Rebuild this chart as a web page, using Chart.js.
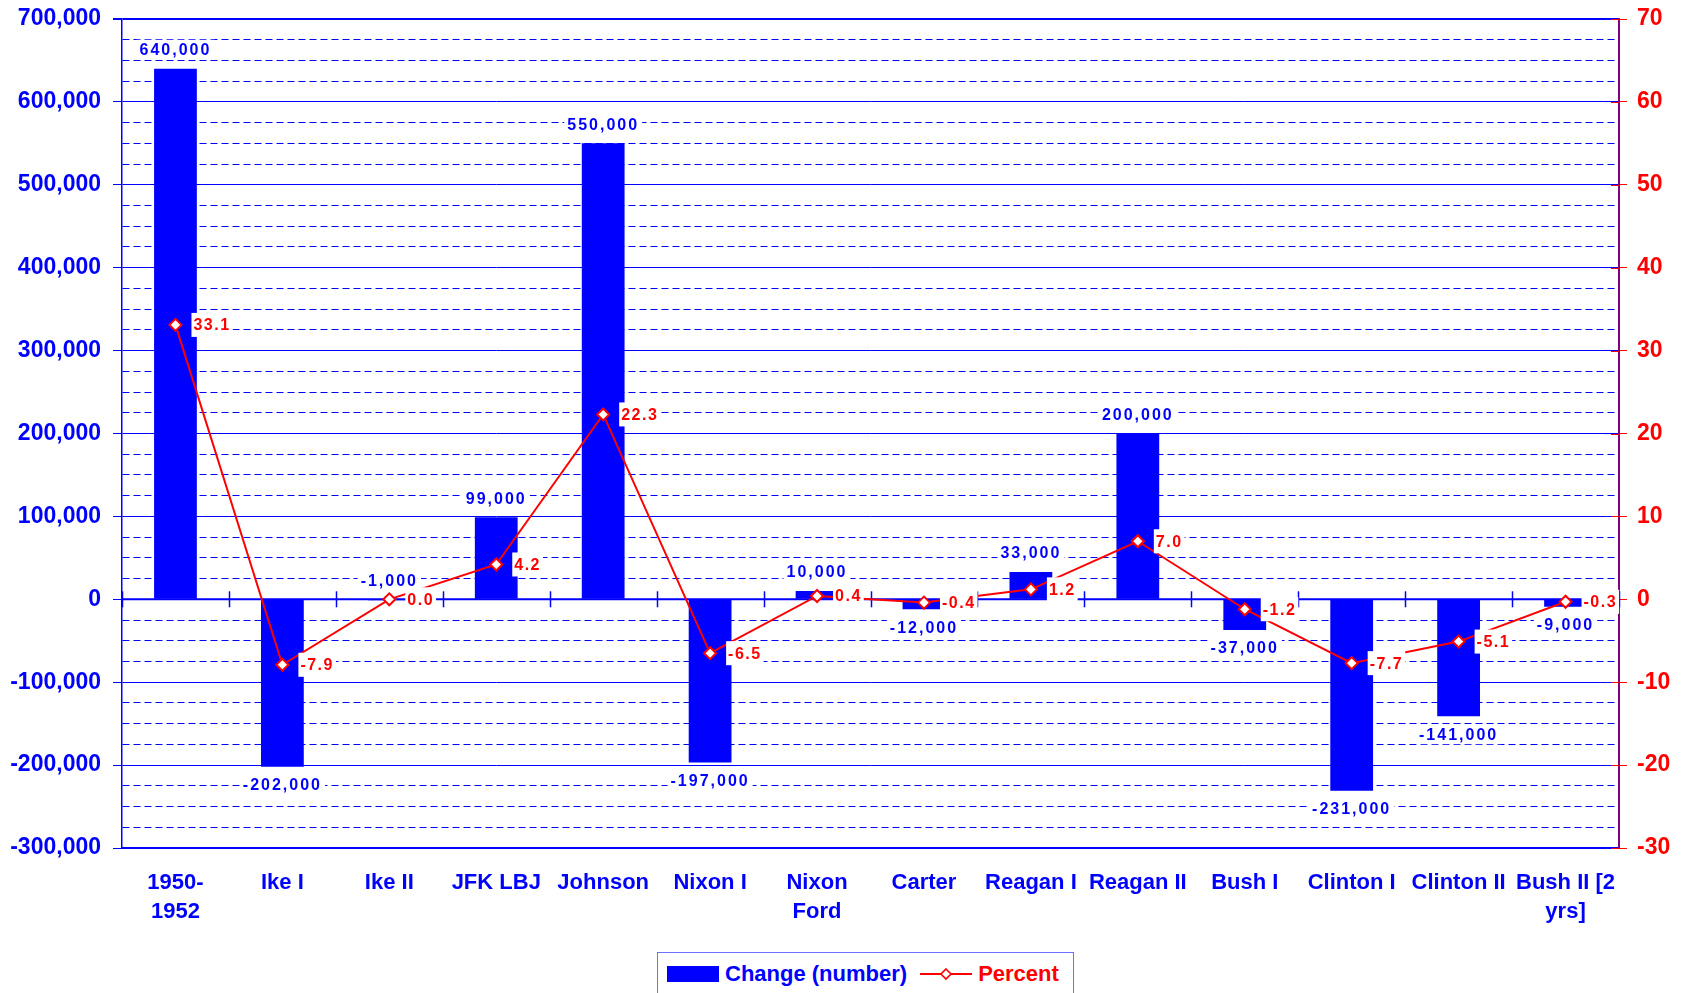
<!DOCTYPE html>
<html>
<head>
<meta charset="utf-8">
<script src="https://cdn.jsdelivr.net/npm/chart.js@4.4.1/dist/chart.umd.min.js"></script>
<style>
  html, body { margin: 0; padding: 0; background: #ffffff; width: 1683px; height: 993px; overflow: hidden; }
  #wrap { position: relative; width: 1683px; height: 993px; }
  canvas { position: absolute; left: 0; top: 0; }
  #legend {
    position: absolute; left: 657px; top: 952px; width: 417px; height: 60px;
    border: 1px solid #7070ff; box-sizing: border-box; background: #fff;
    font-family: "Liberation Sans", Arial, sans-serif; font-weight: bold; font-size: 22px;
  }
  #legend .row { display: flex; align-items: center; height: 41px; padding-left: 9px; }
  #legend .sw { width: 52px; height: 16px; background: #0000ff; margin-right: 6px; }
  #legend .t1 { color: #0000ff; margin-right: 13px; }
  #legend .t2 { color: #ff0000; margin-left: 6px; }
</style>
</head>
<body>
<div id="wrap">
  <canvas id="c" width="1683" height="993"></canvas>
  <div id="legend"><div class="row">
    <span class="sw"></span><span class="t1">Change (number)</span>
    <svg width="52" height="16" viewBox="0 0 52 16"><line x1="0" y1="8" x2="52" y2="8" stroke="#ff0000" stroke-width="2"/><polygon points="26,3 31,8 26,13 21,8" fill="#fff" stroke="#ff0000" stroke-width="1.6"/></svg>
    <span class="t2">Percent</span>
  </div></div>
</div>
<script>
// ---- data ----
const categories = [
  ["1950-", "1952"], "Ike I", "Ike II", "JFK LBJ", "Johnson", "Nixon I",
  ["Nixon", "Ford"], "Carter", "Reagan I", "Reagan II", "Bush I",
  "Clinton I", "Clinton II", ["Bush II [2", "yrs]"]
];
const changeValues = [640000, -202000, -1000, 99000, 550000, -197000, 10000, -12000, 33000, 200000, -37000, -231000, -141000, -9000];
const percentValues = [33.1, -7.9, 0.0, 4.2, 22.3, -6.5, 0.4, -0.4, 1.2, 7.0, -1.2, -7.7, -5.1, -0.3];
const seriesNames = ["Change (number)", "Percent"];
const leftAxisRange = [-300000, 700000];
const leftMajorStep = 100000;
const leftMinorStep = 25000;
const rightAxisRange = [-30, 70];
const rightStep = 10;

const FONT = '"Liberation Sans", Arial, sans-serif';
const BLUE = '#0000ff';
const RED = '#ff0000';

const extras = {
  id: 'extras',
  beforeDatasetsDraw(chart) {
    const ctx = chart.ctx;
    const xs = chart.scales.x, ys = chart.scales.y, y1 = chart.scales.y1;
    const area = chart.chartArea;
    const y0 = ys.getPixelForValue(0);
    ctx.save();
    ctx.strokeStyle = BLUE; ctx.lineWidth = 2;
    ctx.beginPath(); ctx.moveTo(area.left, y0); ctx.lineTo(area.right, y0); ctx.stroke();
    const half = (xs.getPixelForValue(1) - xs.getPixelForValue(0)) / 2;
    ctx.lineWidth = 1.5;
    for (let i = 0; i <= categories.length; i++) {
      const x = Math.round(xs.getPixelForValue(i) - half) + 0.5;
      ctx.beginPath(); ctx.moveTo(x, y0 - 8); ctx.lineTo(x, y0 + 8); ctx.stroke();
    }
    ctx.strokeStyle = RED; ctx.lineWidth = 1;
    for (let v = rightAxisRange[0]; v <= rightAxisRange[1]; v += rightStep) {
      const y = Math.round(y1.getPixelForValue(v)) + 0.5;
      ctx.beginPath(); ctx.moveTo(area.right - 8, y); ctx.lineTo(area.right, y); ctx.stroke();
    }
    ctx.restore();
  },
  afterDatasetsDraw(chart) {
    const ctx = chart.ctx;
    ctx.save();
    ctx.textBaseline = 'middle';
    ctx.textAlign = 'left';
    ctx.font = 'bold 16px ' + FONT;
    try { ctx.letterSpacing = '2px'; } catch (e) {}
    const barMeta = chart.getDatasetMeta(0);
    barMeta.data.forEach((bar, i) => {
      const v = changeValues[i];
      const txt = v.toLocaleString('en-US');
      const top = Math.min(bar.y, bar.base), bottom = Math.max(bar.y, bar.base);
      const cy = (v >= 0 || Math.abs(v) < 5000) ? top - 19 : bottom + 18;
      const w = ctx.measureText(txt).width;
      ctx.fillStyle = '#ffffff';
      ctx.fillRect(bar.x - w / 2 - 3, cy - 10, w + 6, 20);
      ctx.fillStyle = BLUE;
      ctx.fillText(txt, bar.x - w / 2, cy + 1);
    });
    ctx.font = 'bold 16px ' + FONT;
    try { ctx.letterSpacing = '1.5px'; } catch (e) {}
    const lineMeta = chart.getDatasetMeta(1);
    lineMeta.data.forEach((pt, i) => {
      const txt = percentValues[i].toFixed(1);
      const w = ctx.measureText(txt).width;
      const x0 = pt.x + 18;
      ctx.fillStyle = '#ffffff';
      ctx.fillRect(x0 - 2, pt.y - 12, w + 4, 24);
      ctx.fillStyle = RED;
      ctx.fillText(txt, x0, pt.y + 1);
    });
    ctx.restore();
  }
};

function fixVertical(width) {
  return function (s) { s.width = width; s.paddingTop = 0; s.paddingBottom = 0; };
}

new Chart(document.getElementById('c'), {
  type: 'bar',
  data: {
    labels: categories,
    datasets: [
      {
        type: 'bar', label: seriesNames[0], data: changeValues, yAxisID: 'y',
        backgroundColor: BLUE, borderWidth: 0,
        barPercentage: 0.4, categoryPercentage: 1.0, order: 2
      },
      {
        type: 'line', label: seriesNames[1], data: percentValues, yAxisID: 'y1',
        borderColor: RED, borderWidth: 2, tension: 0, fill: false,
        pointStyle: 'rectRot', pointRadius: 6, pointBorderWidth: 2,
        pointBackgroundColor: '#ffffff', pointBorderColor: RED, order: 1
      }
    ]
  },
  options: {
    responsive: false,
    animation: false,
    events: [],
    layout: { padding: { top: 19, left: 0, right: 0, bottom: 0 } },
    plugins: { legend: { display: false }, tooltip: { enabled: false } },
    scales: {
      x: {
        grid: { display: false, drawTicks: false },
        border: { display: true, color: BLUE, width: 2 },
        ticks: {
          color: BLUE, font: { family: FONT, size: 22, weight: 'bold', lineHeight: 1.32 },
          padding: 20, maxRotation: 0, minRotation: 0, autoSkip: false
        },
        afterFit(s) { s.height = 145; s.paddingLeft = 0; s.paddingRight = 0; }
      },
      y: {
        position: 'left',
        min: leftAxisRange[0], max: leftAxisRange[1],
        ticks: {
          stepSize: leftMinorStep, autoSkip: false, color: BLUE, padding: 12,
          font: { family: FONT, size: 23, weight: 'bold' },
          callback: (v) => (v % leftMajorStep === 0 ? Number(v).toLocaleString('en-US') : '')
        },
        grid: {
          color: BLUE,
          lineWidth: (c) => (c.tick && (c.tick.value === leftAxisRange[1]) ? 2 : 1),
          tickLength: 9,
          tickColor: (c) => (c.tick && c.tick.value % leftMajorStep === 0 ? BLUE : 'rgba(0,0,0,0)')
        },
        border: {
          display: true, color: BLUE, width: 1.5,
          dash: (c) => (c.tick && c.tick.value % leftMajorStep !== 0 ? [7, 4] : [])
        },
        afterFit: fixVertical(122)
      },
      y1: {
        position: 'right',
        min: rightAxisRange[0], max: rightAxisRange[1],
        ticks: {
          stepSize: rightStep, color: RED, padding: 10,
          font: { family: FONT, size: 23, weight: 'bold' }
        },
        grid: { drawOnChartArea: false, tickLength: 8, tickColor: RED, color: RED },
        border: { display: true, color: '#800080', width: 2 },
        afterFit: fixVertical(64)
      }
    }
  },
  plugins: [extras]
});
</script>
</body>
</html>
